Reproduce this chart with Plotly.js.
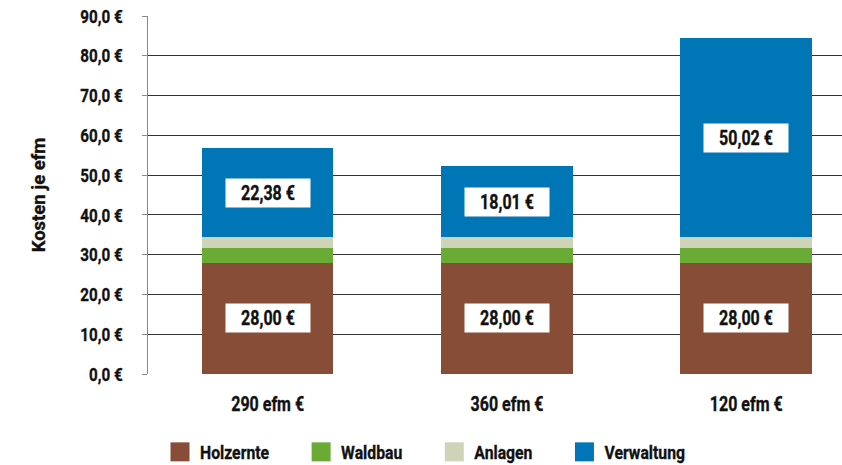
<!DOCTYPE html>
<html>
<head>
<meta charset="utf-8">
<script src="https://cdn.plot.ly/plotly-3.0.1.min.js"></script>
<style>
html,body{margin:0;padding:0;background:#fff;}
#chart{width:842px;height:465px;}
#chart text{stroke:#111;stroke-width:0.35px;}
</style>
</head>
<body>
<div id="chart"></div>
<script>
const categories = ['290 efm €', '360 efm €', '120 efm €'];
const holzernte = [28.00, 28.00, 28.00];
const waldbau = [3.66, 3.66, 3.66];
const anlagen = [2.69, 2.69, 2.69];
const verwaltung = [22.38, 18.01, 50.02];
const yTicks = [0, 10, 20, 30, 40, 50, 60, 70, 80, 90];
const yTickText = ['0,0 €', '10,0 €', '20,0 €', '30,0 €', '40,0 €', '50,0 €', '60,0 €', '70,0 €', '80,0 €', '90,0 €'];

const FONT = "Roboto, 'DejaVu Sans Condensed', sans-serif";
const W = 700;
const colors = {Holzernte: '#874d36', Waldbau: '#6aab35', Anlagen: '#cfd3b8', Verwaltung: '#0076b6'};
const xIdx = categories.map((c, i) => i);

function bar(name, vals) {
  return {type: 'bar', name: name, x: xIdx, y: vals, width: 0.55,
    marker: {color: colors[name], line: {width: 0}}, hoverinfo: 'skip'};
}
const traces = [bar('Holzernte', holzernte), bar('Waldbau', waldbau), bar('Anlagen', anlagen), bar('Verwaltung', verwaltung)];

function fmt(v) { return v.toFixed(2).replace('.', ',') + ' €'; }
const lblFont = {family: FONT, size: 20, weight: W, color: '#111'};
const annotations = [];
xIdx.forEach(i => {
  annotations.push({x: i, y: holzernte[i] / 2, xref: 'x', yref: 'y', text: fmt(holzernte[i]), showarrow: false,
    bgcolor: '#ffffff', width: 82, height: 26, font: lblFont});
  const base = holzernte[i] + waldbau[i] + anlagen[i];
  annotations.push({x: i, y: base + verwaltung[i] / 2, xref: 'x', yref: 'y', text: fmt(verwaltung[i]), showarrow: false,
    bgcolor: '#ffffff', width: 82, height: 26, font: lblFont});
});

const layout = {
  width: 842, height: 465,
  margin: {l: 148, r: 0, t: 16, b: 91},
  barmode: 'stack',
  paper_bgcolor: '#fff', plot_bgcolor: '#fff',
  font: {family: FONT, size: 19, weight: W, color: '#111'},
  xaxis: {range: [-0.5, 2.4], tickvals: xIdx, ticktext: categories, ticks: '', showgrid: false,
    zeroline: false, showline: false, ticklabelstandoff: 16,
    tickfont: {family: FONT, size: 20, weight: W, color: '#111'}},
  yaxis: {range: [0, 90], tickvals: yTicks, ticktext: yTickText,
    showgrid: true, gridcolor: '#333', gridwidth: 1, zeroline: false,
    showline: true, linecolor: '#888', linewidth: 1.5, ticks: 'outside', ticklen: 5, tickcolor: '#888',
    ticklabelstandoff: 15,
    tickfont: {family: FONT, size: 19, weight: W, color: '#111'},
    title: {text: 'Kosten je efm', standoff: 19, font: {family: FONT, size: 18.5, weight: W, color: '#111'}}},
  showlegend: true,
  legend: {orientation: 'h', traceorder: 'normal', xref: 'container', yref: 'container',
    x: 160 / 842, xanchor: 'left', y: 1 - 452 / 465, yanchor: 'middle',
    font: {family: FONT, size: 19, weight: W, color: '#111'}},
  annotations: annotations,
  bargap: 0
};

function squeeze(root, sel, f) {
  root.querySelectorAll(sel).forEach(t => {
    const L = t.getComputedTextLength();
    if (L > 0) {
      t.setAttribute('textLength', (L * f).toFixed(2));
      t.setAttribute('lengthAdjust', 'spacingAndGlyphs');
    }
  });
}

Plotly.newPlot('chart', traces, layout, {displayModeBar: false, staticPlot: true}).then(gd => {
  squeeze(gd, '.ytick text', 0.8);
  squeeze(gd, '.xtick text', 0.8);
  squeeze(gd, '.annotation-text', 0.8);
  squeeze(gd, '.legendtext', 0.83);
  gd.querySelectorAll('.legendpoints path').forEach(p => p.setAttribute('d', 'M9.5,9.5H-9.5V-9.5H9.5Z'));
  gd.querySelectorAll('.legend [clip-path]').forEach(e => e.removeAttribute('clip-path'));
  // re-space legend entries after narrowing their text
  const items = Array.from(gd.querySelectorAll('.legend .traces'));
  if (items.length) {
    const m0 = /translate\(([-\d.]+)[ ,]+([-\d.]+)\)/.exec(items[0].getAttribute('transform'));
    let x = m0 ? parseFloat(m0[1]) : 0;
    const y = m0 ? parseFloat(m0[2]) : 0;
    items.forEach(g => {
      g.setAttribute('transform', 'translate(' + x + ',' + y + ')');
      const t = g.querySelector('.legendtext');
      const w = parseFloat(t.getAttribute('textLength')) || t.getComputedTextLength();
      x += 40 + w + 32;
    });
  }
});
</script>
</body>
</html>
